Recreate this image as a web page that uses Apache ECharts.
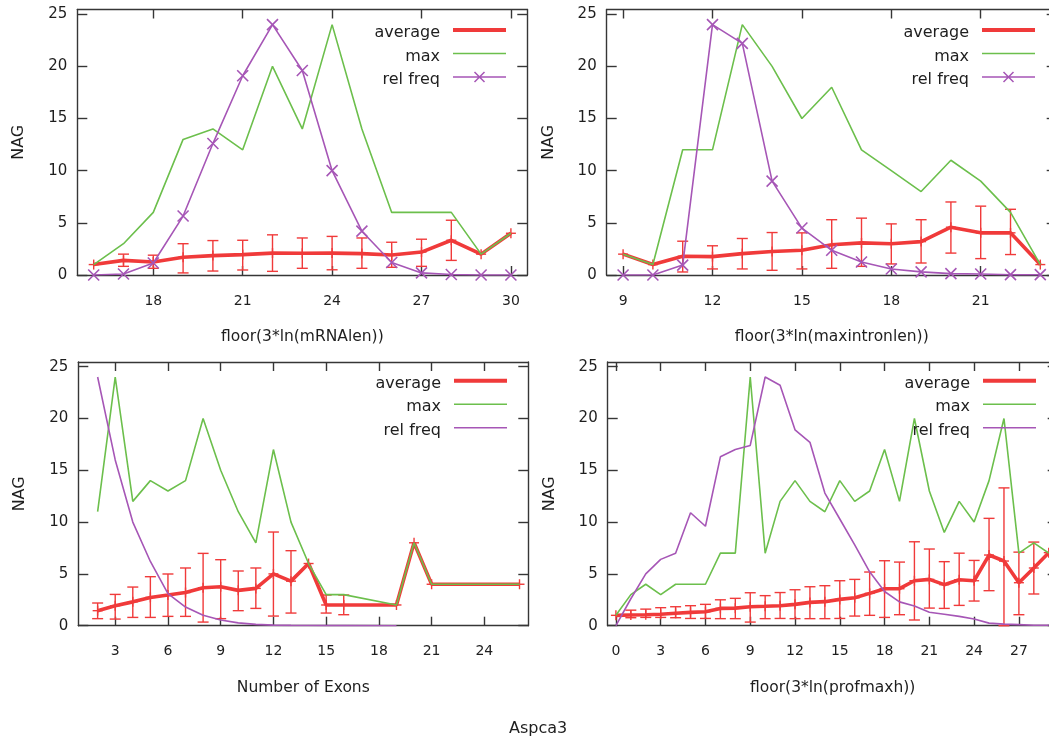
<!DOCTYPE html>
<html>
<head>
<meta charset="utf-8">
<script src="https://cdn.jsdelivr.net/npm/echarts@6/dist/echarts.min.js"></script>
<style>
  html, body { margin: 0; padding: 0; background: #ffffff; }
  #chart { width: 1049px; height: 740px; }
</style>
</head>
<body>
<div id="chart"></div>
<script>
// ---- floor(3*ln(mRNAlen)) ----
const mrnaX       = [16, 17, 18, 19, 20, 21, 22, 23, 24, 25, 26, 27, 28, 29, 30];
const mrnaAvg     = [1.0, 1.4, 1.25, 1.7, 1.86, 1.95, 2.1, 2.08, 2.1, 2.05, 1.92, 2.2, 3.33, 2.0, 4.0];
const mrnaErrLow  = [null, 0.83, 0.64, 0.2, 0.38, 0.48, 0.35, 0.64, 0.5, 0.64, 0.74, 0.83, 1.4, null, null];
const mrnaErrHigh = [null, 2.0, 1.9, 3.0, 3.3, 3.33, 3.85, 3.55, 3.7, 3.55, 3.14, 3.43, 5.25, null, null];
const mrnaMax     = [1, 3, 6, 13, 14, 12, 20, 14, 24, 14, 6, 6, 6, 2, 4];
const mrnaRelFreq = [0, 0.1, 1.15, 5.65, 12.6, 19.1, 24, 19.6, 10.0, 4.2, 1.2, 0.2, 0.05, 0, 0];
const mrnaTicks   = [18, 21, 24, 27, 30];

// ---- floor(3*ln(maxintronlen)) ----
const intronX       = [9, 10, 11, 12, 13, 14, 15, 16, 17, 18, 19, 20, 21, 22, 23];
const intronAvg     = [2.0, 1.0, 1.8, 1.76, 2.05, 2.25, 2.37, 2.9, 3.08, 3.0, 3.2, 4.58, 4.04, 4.04, 1.0];
const intronErrLow  = [null, null, 0.29, 0.58, 0.58, 0.45, 0.58, 0.64, 0.83, 1.06, 1.15, 2.1, 1.57, 1.96, null];
const intronErrHigh = [null, null, 3.24, 2.8, 3.5, 4.07, 4.04, 5.3, 5.45, 4.9, 5.3, 7.0, 6.6, 6.3, null];
const intronMax     = [2, 1, 12, 12, 24, 20, 15, 18, 12, 10, 8, 11, 9, 6, 1];
const intronRelFreq = [0, 0, 0.95, 24, 22.2, 9.0, 4.5, 2.37, 1.25, 0.58, 0.3, 0.13, 0.1, 0.03, 0.03];
const intronTicks   = [9, 12, 15, 18, 21];

// ---- Number of Exons ----
const exonX       = [2, 3, 4, 5, 6, 7, 8, 9, 10, 11, 12, 13, 14, 15, 16, 19, 20, 21, 26];
const exonAvg     = [1.45, 1.93, 2.3, 2.73, 2.96, 3.2, 3.67, 3.76, 3.41, 3.6, 5.0, 4.3, 6.0, 2.0, 2.0, 2.0, 8.0, 4.0, 4.0];
const exonErrLow  = [0.68, 0.64, 0.8, 0.8, 0.9, 0.9, 0.35, 0.68, 1.45, 1.67, 0.93, 1.22, null, 1.22, 1.06, null, null, null, null];
const exonErrHigh = [2.19, 3.02, 3.73, 4.73, 4.99, 5.57, 6.98, 6.37, 5.28, 5.57, 9.04, 7.24, null, 2.96, 2.96, null, null, null, null];
const exonMax     = [11, 24, 12, 14, 13, 14, 20, 15, 11, 8, 17, 10, 6, 3, 3, 2, 8, 4, 4];
const exonRelFreq = [24, 16, 10, 6.2, 3.1, 1.8, 1.0, 0.55, 0.27, 0.13, 0.06, 0.03, 0.02, 0.01, 0.01, 0.0, null, null, null];
const exonTicks   = [3, 6, 9, 12, 15, 18, 21, 24];

// ---- floor(3*ln(profmaxh)) ----
const profX       = [0, 1, 2, 3, 4, 5, 6, 7, 8, 9, 10, 11, 12, 13, 14, 15, 16, 17, 18, 19, 20, 21, 22, 23, 24, 25, 26, 27, 28, 29];
const profAvg     = [1.0, 1.03, 1.06, 1.1, 1.2, 1.29, 1.35, 1.67, 1.7, 1.83, 1.87, 1.93, 2.06, 2.25, 2.32, 2.54, 2.7, 3.12, 3.57, 3.57, 4.34, 4.47, 3.96, 4.44, 4.34, 6.82, 6.24, 4.15, 5.57, 7.05];
const profErrLow  = [null, 0.77, 0.8, 0.8, 0.77, 0.7, 0.7, 0.68, 0.68, 0.35, 0.68, 0.7, 0.68, 0.68, 0.68, 0.7, 0.93, 1.0, 0.8, 1.06, 0.55, 1.7, 1.67, 1.96, 2.38, 3.38, 0.0, 1.06, 3.06, null];
const profErrHigh = [null, 1.5, 1.6, 1.74, 1.83, 1.93, 2.06, 2.5, 2.64, 3.18, 2.9, 3.2, 3.47, 3.76, 3.86, 4.34, 4.47, 5.18, 6.27, 6.14, 8.1, 7.4, 6.18, 7.0, 6.3, 10.36, 13.3, 7.1, 8.07, null];
const profMax     = [1, 3, 4, 3, 4, 4, 4, 7, 7, 24, 7, 12, 14, 12, 11, 14, 12, 13, 17, 12, 20, 13, 9, 12, 10, 14, 20, 7, 8, 7];
const profRelFreq = [0, 2.6, 5.0, 6.4, 7.0, 10.9, 9.6, 16.3, 17.0, 17.4, 24, 23.2, 18.9, 17.7, 12.8, 10.3, 7.8, 5.2, 3.3, 2.3, 1.9, 1.3, 1.1, 0.9, 0.65, 0.25, 0.15, 0.1, 0.05, 0.05];
const profTicks   = [0, 3, 6, 9, 12, 15, 18, 21, 24, 27];

const yTicks = [0, 5, 10, 15, 20, 25];
const seriesNames = ['average', 'max', 'rel freq'];
const xTitles = ['floor(3*ln(mRNAlen))', 'floor(3*ln(maxintronlen))', 'Number of Exons', 'floor(3*ln(profmaxh))'];
const yTitle = 'NAG';
const pageTitle = 'Aspca3';

const FONT = '"DejaVu Sans", Verdana, sans-serif';
const INK = '#1e1e1e';
const FRAME = '#363636';
const RED = '#f03a3a';
const GREEN = '#6cbf4c';
const PURPLE = '#a656b6';

// cross marker used on the rel freq curves of the upper panels
const CROSS = 'path://M0,0L10,10M10,0L0,10';

// legend swatches: 61x18 boxes (tiny corner specks fix the bounding box)
const BOX = 'M0,0L0.01,0L0,0.01Z M61,18L60.99,18L61,17.99Z ';
const ICON_THICK = 'path://' + BOX + 'M8,4H61V8H8Z';
const ICON_THIN = 'path://' + BOX + 'M8,5.25H61V6.75H8Z';
const ICON_CROSS = 'path://' + BOX + 'M8,5.25H61V6.75H8Z ' +
  'M30.03,0.47L40.03,10.47L38.97,11.53L28.97,1.53Z ' +
  'M28.97,10.47L38.97,0.47L40.03,1.53L30.03,11.53Z';

const panels = [
  { x: mrnaX, avg: mrnaAvg, lo: mrnaErrLow, hi: mrnaErrHigh, max: mrnaMax, rel: mrnaRelFreq,
    ticks: mrnaTicks, xmin: 15.45, xmax: 30.55, cross: true,
    grid: { left: 77.3, top: 9.5, width: 450, height: 265.5 }, legend: { right: 543, top: 24 } },
  { x: intronX, avg: intronAvg, lo: intronErrLow, hi: intronErrHigh, max: intronMax, rel: intronRelFreq,
    ticks: intronTicks, xmin: 8.45, xmax: 23.55, cross: true,
    grid: { left: 606.7, top: 9.5, width: 450, height: 265.5 }, legend: { right: 14, top: 24 } },
  { x: exonX, avg: exonAvg, lo: exonErrLow, hi: exonErrHigh, max: exonMax, rel: exonRelFreq,
    ticks: exonTicks, xmin: 0.9, xmax: 26.5, cross: false,
    grid: { left: 78.3, top: 362, width: 450, height: 263.7 }, legend: { right: 542, top: 374.7 } },
  { x: profX, avg: profAvg, lo: profErrLow, hi: profErrHigh, max: profMax, rel: profRelFreq,
    ticks: profTicks, xmin: -0.55, xmax: 29.6, cross: false,
    grid: { left: 607.7, top: 362, width: 450, height: 263.7 }, legend: { right: 13, top: 374.7 } }
];

function pairs(xs, ys) {
  return xs.map((x, i) => [x, ys[i]]);
}

// error bars with caps plus a "+" at every average point
function errorBars(params, api) {
  const x = api.value(0), y = api.value(1), lo = api.value(2), hi = api.value(3);
  const kids = [];
  const seg = (x1, y1, x2, y2) => kids.push({
    type: 'line', shape: { x1, y1, x2, y2 },
    style: { stroke: RED, lineWidth: 1.4, fill: null }
  });
  if (isFinite(lo) && isFinite(hi)) {
    const t = api.coord([x, hi]);
    const b = api.coord([x, lo]);
    seg(t[0], t[1], b[0], b[1]);
    seg(t[0] - 5.5, t[1], t[0] + 5.5, t[1]);
    seg(b[0] - 5.5, b[1], b[0] + 5.5, b[1]);
  }
  const c = api.coord([x, y]);
  seg(c[0] - 5, c[1], c[0] + 5, c[1]);
  seg(c[0], c[1] - 5, c[0], c[1] + 5);
  return { type: 'group', children: kids };
}

const grid = [], xAxis = [], yAxis = [], series = [], legend = [];
const axisLineStyle = { color: FRAME, width: 1.4 };

panels.forEach((p, i) => {
  grid.push(Object.assign({ containLabel: false, outerBoundsMode: 'none', show: false }, p.grid));

  // bottom axis with labels, top axis as mirrored ticks
  xAxis.push({
    gridIndex: i, type: 'value', position: 'bottom', min: p.xmin, max: p.xmax,
    axisLine: { show: true, onZero: false, lineStyle: axisLineStyle },
    axisTick: { show: true, inside: true, length: 9, customValues: p.ticks, lineStyle: axisLineStyle },
    axisLabel: { customValues: p.ticks, margin: 19, fontFamily: FONT, fontSize: 14, color: INK },
    splitLine: { show: false },
    name: xTitles[i], nameLocation: 'middle', nameGap: 54,
    nameTextStyle: { fontFamily: FONT, fontSize: 15.5, color: INK }
  });
  xAxis.push({
    gridIndex: i, type: 'value', position: 'top', min: p.xmin, max: p.xmax,
    axisLine: { show: true, onZero: false, lineStyle: axisLineStyle },
    axisTick: { show: true, inside: true, length: 9, customValues: p.ticks, lineStyle: axisLineStyle },
    axisLabel: { show: false }, splitLine: { show: false }
  });
  yAxis.push({
    gridIndex: i, type: 'value', position: 'left', min: 0, max: 25.45,
    axisLine: { show: true, onZero: false, lineStyle: axisLineStyle },
    axisTick: { show: true, inside: true, length: 10, customValues: yTicks, lineStyle: axisLineStyle },
    axisLabel: { customValues: yTicks, margin: 10, fontFamily: FONT, fontSize: 15, color: INK },
    splitLine: { show: false },
    name: yTitle, nameLocation: 'middle', nameGap: 50,
    nameTextStyle: { fontFamily: FONT, fontSize: 16, color: INK }
  });
  yAxis.push({
    gridIndex: i, type: 'value', position: 'right', min: 0, max: 25.45,
    axisLine: { show: true, onZero: false, lineStyle: axisLineStyle },
    axisTick: { show: true, inside: true, length: 10, customValues: yTicks, lineStyle: axisLineStyle },
    axisLabel: { show: false }, splitLine: { show: false }
  });

  const xi = 2 * i, yi = 2 * i;
  const tag = '@' + i;
  series.push({
    name: seriesNames[0] + tag, type: 'line', xAxisIndex: xi, yAxisIndex: yi,
    data: pairs(p.x, p.avg), symbol: 'none', silent: true,
    lineStyle: { color: RED, width: 3.6 }, itemStyle: { color: RED }, z: 2
  });
  series.push({
    name: 'errbars' + tag, type: 'custom', xAxisIndex: xi, yAxisIndex: yi,
    data: p.x.map((x, k) => [x, p.avg[k], p.lo[k], p.hi[k]]),
    dimensions: ['x', 'avg', 'lo', 'hi'], encode: { x: 0, y: 1 },
    renderItem: errorBars, silent: true, z: 2
  });
  series.push({
    name: seriesNames[1] + tag, type: 'line', xAxisIndex: xi, yAxisIndex: yi,
    data: pairs(p.x, p.max), symbol: 'none', silent: true,
    lineStyle: { color: GREEN, width: 1.6 }, itemStyle: { color: GREEN }, z: 2
  });
  series.push({
    name: seriesNames[2] + tag, type: 'line', xAxisIndex: xi, yAxisIndex: yi,
    data: pairs(p.x, p.rel), silent: true,
    symbol: p.cross ? CROSS : 'none', symbolSize: 11, showSymbol: p.cross,
    itemStyle: { color: 'rgba(0,0,0,0)', borderColor: PURPLE, borderWidth: 1.6 },
    lineStyle: { color: PURPLE, width: 1.6 }, z: 2
  });

  const icons = [ICON_THICK, ICON_THIN, p.cross ? ICON_CROSS : ICON_THIN];
  const colors = [RED, GREEN, PURPLE];
  legend.push({
    orient: 'vertical', align: 'right', right: p.legend.right, top: p.legend.top,
    padding: 0, itemWidth: 61, itemHeight: 18, itemGap: 5.5, selectedMode: false,
    symbolKeepAspect: false,
    textStyle: { fontFamily: FONT, fontSize: 16, color: INK, lineHeight: 15 },
    formatter: (n) => n.split('@')[0],
    data: seriesNames.map((n, k) => ({
      name: n + tag, icon: icons[k],
      itemStyle: { color: colors[k], borderWidth: 0, opacity: 1 }
    }))
  });
});

const chart = echarts.init(document.getElementById('chart'), null, { renderer: 'canvas' });
chart.setOption({
  backgroundColor: '#ffffff',
  animation: false,
  title: {
    text: pageTitle, left: 504, top: 716,
    textStyle: { fontFamily: FONT, fontSize: 16, fontWeight: 'normal', color: INK }
  },
  grid, xAxis, yAxis, legend, series
});
</script>
</body>
</html>
